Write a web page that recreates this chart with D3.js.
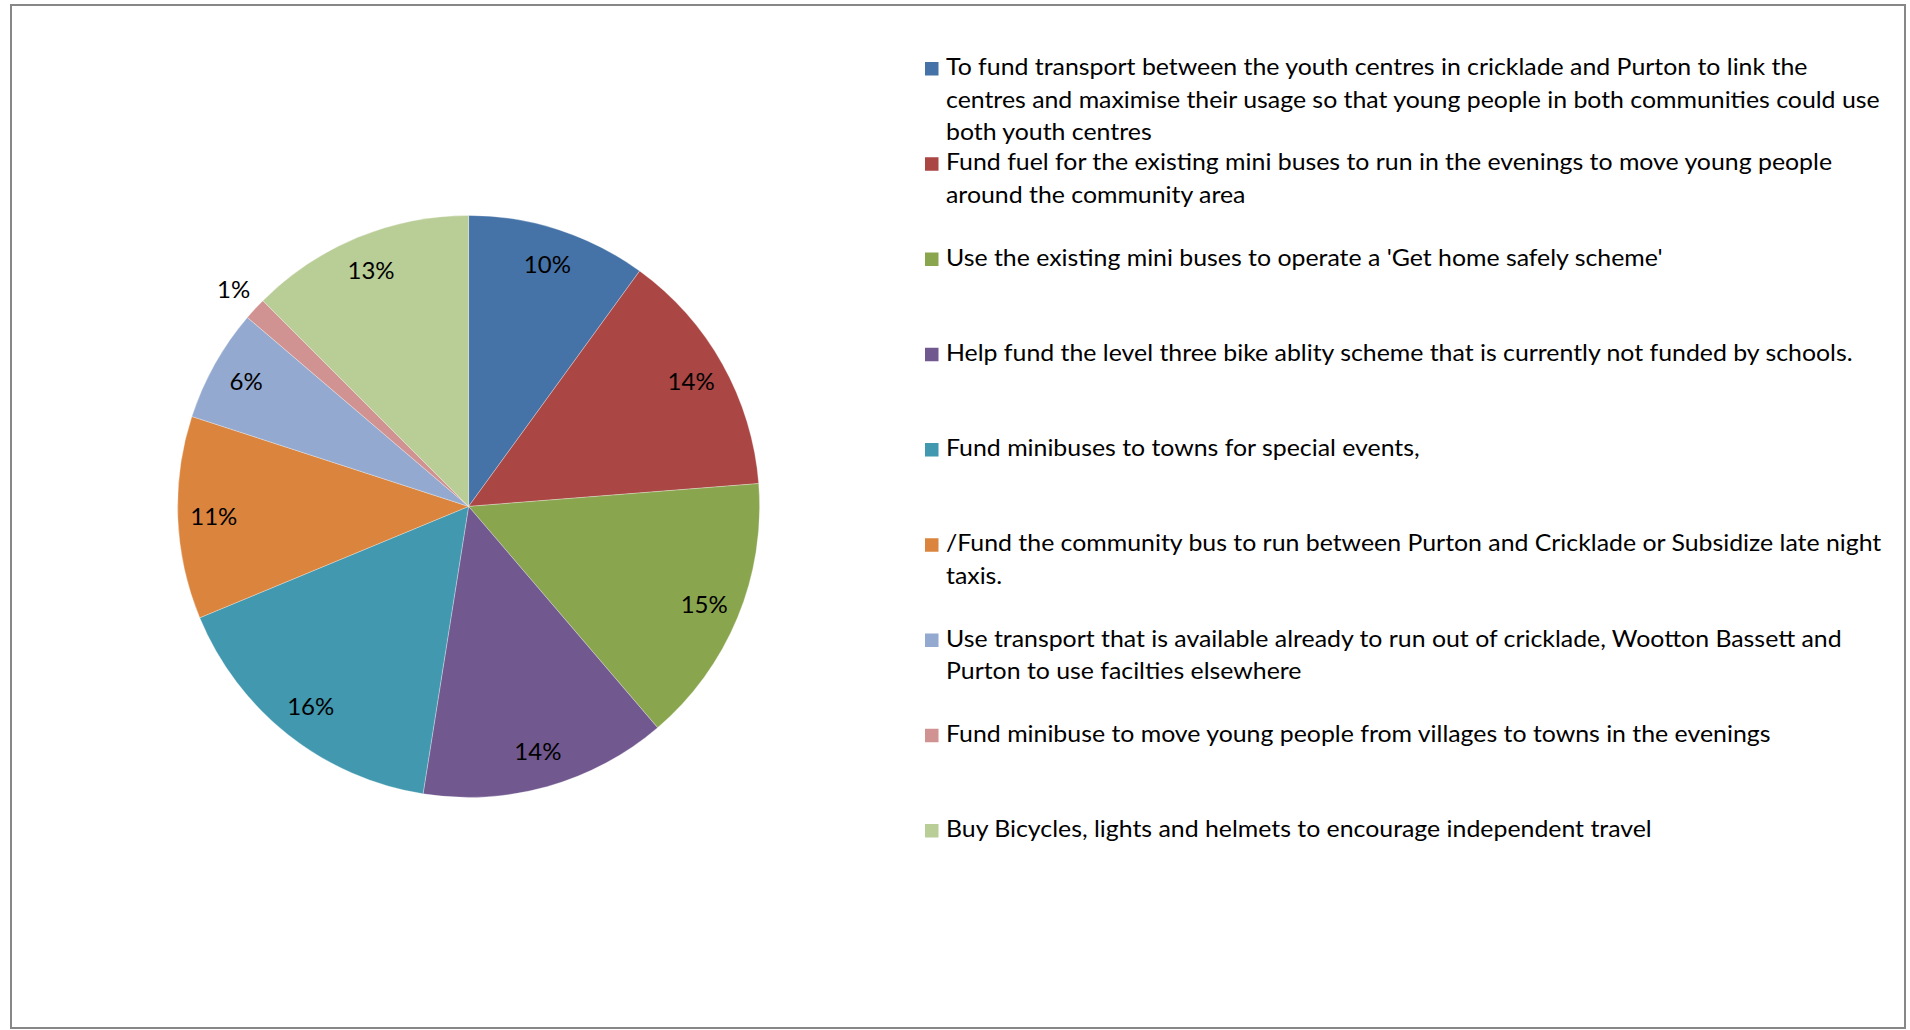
<!DOCTYPE html>
<html>
<head>
<meta charset="utf-8">
<title>Transport options pie</title>
<script src="https://d3js.org/d3.v7.min.js"></script>
<style>
  body { margin: 0; background: #fff; }
  svg text { font-family: Lato, "Noto Sans", sans-serif; fill: #000; }
</style>
</head>
<body>
<div class="chart"></div>
<script>
// one entry per slice, clockwise from 12 o'clock
const categories = [
  "To fund transport between the youth centres in cricklade and Purton to link the centres and maximise their usage so that young people in both communities could use both youth centres",
  "Fund fuel for the existing mini buses to run in the evenings to move young people around the community area",
  "Use the existing mini buses to operate a 'Get home safely scheme'",
  "Help fund the level three bike ablity scheme that is currently not funded by schools.",
  "Fund minibuses to towns for special events,",
  "/Fund the community bus to run between Purton and Cricklade or Subsidize late night taxis.",
  "Use transport that is available already to run out of cricklade, Wootton Bassett and Purton to use facilties elsewhere",
  "Fund minibuse to move young people from villages to towns in the evenings",
  "Buy Bicycles, lights and helmets to encourage independent travel"
]
const votes = [8, 11, 12, 11, 13, 9, 5, 1, 10]
const colors = ['#4572A7', '#AA4643', '#89A54E', '#71588F', '#4198AF',
                '#DB843D', '#93A9CF', '#D19392', '#B9CD96']

const w = 1910
const h = 1030
const cx = 468.6
const cy = 506.4
const radius = 291
const fontSize = 24

const svg = d3.select('.chart')
    .append('svg')
    .attr('width', w)
    .attr('height', h)

// outer frame
svg.append('rect')
    .attr('x', 11).attr('y', 5)
    .attr('width', 1894).attr('height', 1023)
    .attr('fill', '#fff')
    .attr('stroke', '#878787')
    .attr('stroke-width', 2)

const total = d3.sum(votes)
const pie = d3.pie().sort(null).value(d => d)
const arcs = pie(votes)

const arc = d3.arc().innerRadius(0).outerRadius(radius)
const insideLabel = d3.arc().innerRadius(255).outerRadius(255)
const outsideLabel = d3.arc().innerRadius(320).outerRadius(320)

const g = svg.append('g')
    .attr('transform', 'translate(' + cx + ',' + cy + ')')

g.selectAll('path')
    .data(arcs)
    .enter()
    .append('path')
    .attr('d', arc)
    .attr('fill', (d, i) => colors[i])
    .attr('stroke', '#fff')
    .attr('stroke-opacity', 0.5)
    .attr('stroke-width', 0.6)

g.selectAll('text')
    .data(arcs)
    .enter()
    .append('text')
    .attr('transform', d => {
        const share = d.value / total
        const p = share < 0.03 ? outsideLabel.centroid(d) : insideLabel.centroid(d)
        return 'translate(' + p + ')'
    })
    .attr('text-anchor', 'middle')
    .attr('dy', '0.36em')
    .attr('font-size', fontSize)
    .text(d => Math.round(d.value / total * 100) + '%')

// Legend: Calibri is narrower than the fallback font, squeeze text to match
const legendX = 946
const legendTop = 75
const itemStep = 95.25
const lineStep = 32.5
const maxWidth = 940

// first legend line is about 862px wide in the reference
const probe = svg.append('text')
    .attr('font-size', fontSize)
    .text(categories[0].split(' ').slice(0, 14).join(' '))
const squeeze = 862 / probe.node().getComputedTextLength()
probe.remove()

function wrap(label) {
    const words = label.split(' ')
    const lines = []
    let line = ''
    const tmp = svg.append('text').attr('font-size', fontSize)
    words.forEach(word => {
        const next = line ? line + ' ' + word : word
        tmp.text(next)
        if (tmp.node().getComputedTextLength() * squeeze > maxWidth && line) {
            lines.push(line)
            line = word
        } else {
            line = next
        }
    })
    lines.push(line)
    tmp.remove()
    return lines
}

const legend = svg.append('g').attr('class', 'legend')

categories.forEach((label, i) => {
    const y0 = legendTop + i * itemStep
    legend.append('rect')
        .attr('x', 925)
        .attr('y', y0 - 13)
        .attr('width', 13.5)
        .attr('height', 13.5)
        .attr('fill', colors[i])

    wrap(label).forEach((line, j) => {
        legend.append('text')
            .attr('transform', 'translate(' + legendX + ',' + (y0 + j * lineStep) + ') scale(' + squeeze + ',1)')
            .attr('font-size', fontSize)
            .text(line)
    })
})
</script>
</body>
</html>
